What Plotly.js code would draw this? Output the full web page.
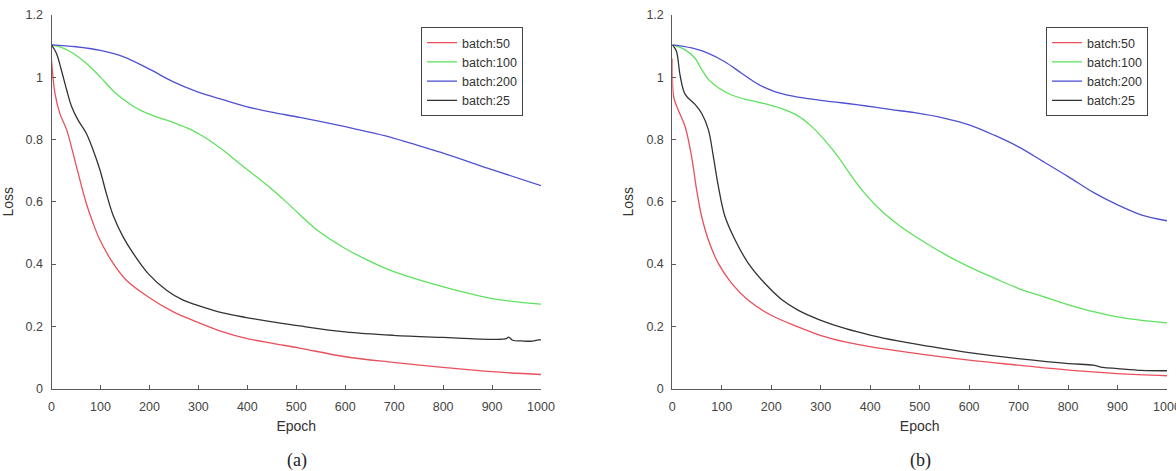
<!DOCTYPE html>
<html>
<head>
<meta charset="utf-8">
<script src="https://cdn.plot.ly/plotly-3.0.1.min.js"></script>
<style>
  html, body { margin: 0; padding: 0; background: #fff; }
  #chart { width: 1176px; height: 471px; }
</style>
</head>
<body>
<div id="chart"></div>
<script>
// Training loss vs. epoch for four batch sizes, two runs (a) and (b).
const seriesNames = ['batch:50', 'batch:100', 'batch:200', 'batch:25'];
const seriesColors = ['#e8505c', '#5ee25e', '#5050d2', '#333333'];
const xTicks = [0, 100, 200, 300, 400, 500, 600, 700, 800, 900, 1000];
const yTicks = [0, 0.2, 0.4, 0.6, 0.8, 1, 1.2];
const captions = ['(a)', '(b)'];

// ---- run (a) ----
const a50Epoch = [0, 7, 17, 31, 44, 58, 71, 85, 99, 126, 153, 197, 248, 297, 350, 398, 452, 507, 600, 698, 799, 900, 1000];
const a50Loss  = [1.056, 0.949, 0.884, 0.831, 0.756, 0.670, 0.595, 0.531, 0.477, 0.402, 0.348, 0.295, 0.247, 0.214, 0.182, 0.161, 0.145, 0.130, 0.102, 0.084, 0.068, 0.054, 0.045];

const a100Epoch = [0, 20, 44, 71, 99, 126, 153, 180, 214, 248, 282, 316, 350, 384, 418, 452, 486, 541, 600, 650, 698, 799, 900, 1000];
const a100Loss  = [1.104, 1.096, 1.077, 1.045, 1.002, 0.956, 0.922, 0.895, 0.873, 0.855, 0.834, 0.804, 0.766, 0.723, 0.681, 0.638, 0.590, 0.511, 0.450, 0.409, 0.376, 0.327, 0.289, 0.271];

const a200Epoch = [0, 50, 100, 146, 200, 248, 297, 350, 398, 452, 507, 600, 700, 800, 900, 1000];
const a200Loss  = [1.104, 1.098, 1.086, 1.066, 1.026, 0.986, 0.954, 0.928, 0.906, 0.887, 0.871, 0.841, 0.804, 0.756, 0.703, 0.652];

const a25Epoch = [0, 10, 20, 31, 41, 54, 71, 85, 99, 112, 126, 146, 167, 197, 235, 269, 297, 350, 398, 452, 507, 600, 698, 799, 900, 929, 934, 942, 960, 982, 995, 1000];
const a25Loss  = [1.104, 1.077, 1.024, 0.959, 0.906, 0.863, 0.820, 0.766, 0.702, 0.627, 0.556, 0.488, 0.434, 0.370, 0.316, 0.284, 0.268, 0.243, 0.228, 0.214, 0.201, 0.182, 0.171, 0.164, 0.158, 0.160, 0.165, 0.155, 0.153, 0.152, 0.156, 0.156];

// ---- run (b) ----
const b50Epoch = [0, 3, 12, 26, 39, 49, 59, 73, 93, 120, 153, 199, 254, 299, 349, 402, 456, 510, 600, 699, 801, 900, 1000];
const b50Loss  = [1.06, 0.935, 0.895, 0.841, 0.745, 0.640, 0.555, 0.477, 0.402, 0.338, 0.284, 0.236, 0.198, 0.171, 0.150, 0.134, 0.121, 0.109, 0.091, 0.075, 0.059, 0.048, 0.041];

const b100Epoch = [0, 26, 46, 59, 73, 93, 120, 153, 187, 221, 254, 281, 308, 335, 362, 389, 423, 456, 490, 551, 600, 652, 699, 750, 801, 851, 900, 949, 1000];
const b100Loss  = [1.104, 1.088, 1.061, 1.026, 0.993, 0.966, 0.943, 0.927, 0.915, 0.899, 0.876, 0.843, 0.798, 0.745, 0.683, 0.627, 0.570, 0.527, 0.490, 0.431, 0.391, 0.354, 0.322, 0.295, 0.269, 0.247, 0.230, 0.219, 0.211];

const b200Epoch = [0, 39, 73, 106, 140, 174, 207, 241, 275, 308, 342, 376, 409, 443, 490, 551, 600, 652, 699, 750, 801, 851, 900, 949, 1000];
const b200Loss  = [1.104, 1.094, 1.077, 1.050, 1.013, 0.977, 0.954, 0.940, 0.931, 0.924, 0.918, 0.911, 0.904, 0.896, 0.886, 0.868, 0.847, 0.813, 0.777, 0.729, 0.680, 0.630, 0.590, 0.557, 0.539];

const b25Epoch = [0, 8, 16, 26, 46, 59, 73, 83, 93, 106, 127, 153, 187, 221, 254, 299, 349, 402, 456, 510, 600, 699, 801, 851, 870, 900, 949, 1000];
const b25Loss  = [1.104, 1.085, 1.004, 0.945, 0.913, 0.885, 0.831, 0.745, 0.650, 0.555, 0.477, 0.404, 0.338, 0.286, 0.252, 0.220, 0.193, 0.171, 0.153, 0.138, 0.115, 0.096, 0.080, 0.075, 0.068, 0.064, 0.058, 0.057];

const panelA = [[a50Epoch, a50Loss], [a100Epoch, a100Loss], [a200Epoch, a200Loss], [a25Epoch, a25Loss]];
const panelB = [[b50Epoch, b50Loss], [b100Epoch, b100Loss], [b200Epoch, b200Loss], [b25Epoch, b25Loss]];

const W = 1176, H = 471;
const px = v => v / W;
const py = v => 1 - v / H;

function makeTraces(panel, xa, ya, legendId) {
  return panel.map((s, i) => ({
    type: 'scatter', mode: 'lines',
    x: s[0], y: s[1],
    xaxis: xa, yaxis: ya,
    name: seriesNames[i],
    legend: legendId,
    line: { color: seriesColors[i], width: 1.3, shape: 'spline', smoothing: 1.0 }
  }));
}

const traces = makeTraces(panelA, 'x', 'y', 'legend')
  .concat(makeTraces(panelB, 'x2', 'y2', 'legend2'));

const axisColor = '#5a5a5a';
const tickFont = { family: 'Liberation Sans, Arial, sans-serif', size: 12.5, color: '#444' };
const titleFont = { family: 'Liberation Sans, Arial, sans-serif', size: 14, color: '#333' };

function xAxis(domain, anchor) {
  return {
    domain: domain, anchor: anchor, range: [0, 1000],
    tickvals: xTicks, ticktext: xTicks.map(String),
    ticks: 'inside', ticklen: 4, tickcolor: axisColor, tickwidth: 1,
    showline: true, linecolor: axisColor, linewidth: 1, mirror: false,
    showgrid: false, zeroline: false, tickfont: tickFont,
    ticklabelstandoff: 6, ticklabeloverflow: 'allow',
    title: { text: 'Epoch', font: titleFont, standoff: 8 },
    automargin: false, fixedrange: true
  };
}
function yAxis(domain, anchor) {
  return {
    domain: domain, anchor: anchor, range: [0, 1.2],
    tickvals: yTicks, ticktext: yTicks.map(String),
    ticks: 'inside', ticklen: 4, tickcolor: axisColor, tickwidth: 1,
    showline: true, linecolor: axisColor, linewidth: 1, mirror: false,
    showgrid: false, zeroline: false, tickfont: tickFont,
    ticklabelstandoff: 5, ticklabeloverflow: 'allow',
    title: { text: 'Loss', font: titleFont, standoff: 9 },
    automargin: false, fixedrange: true
  };
}

const yDom = [py(388.5), py(15)];
const legendBase = {
  yanchor: 'top', xanchor: 'left', y: py(27),
  bgcolor: '#ffffff', bordercolor: '#444', borderwidth: 1,
  font: { family: 'Liberation Sans, Arial, sans-serif', size: 12.5, color: '#333' },
  tracegroupgap: 0, itemwidth: 30
};

const layout = {
  width: W, height: H,
  margin: { l: 0, r: 0, t: 0, b: 0 },
  paper_bgcolor: '#fff', plot_bgcolor: '#fff',
  showlegend: true,
  xaxis: xAxis([px(51.5), px(541)], 'y'),
  yaxis: yAxis(yDom, 'x'),
  xaxis2: xAxis([px(672.3), px(1167)], 'y2'),
  yaxis2: yAxis(yDom, 'x2'),
  legend: Object.assign({}, legendBase, { x: px(421) }),
  legend2: Object.assign({}, legendBase, { x: px(1046) }),
  annotations: [
    { text: captions[0], xref: 'paper', yref: 'paper', x: px(297), y: py(460), xanchor: 'center', yanchor: 'middle', showarrow: false,
      font: { family: 'Liberation Serif, DejaVu Serif, serif', size: 18, color: '#222' } },
    { text: captions[1], xref: 'paper', yref: 'paper', x: px(920), y: py(460), xanchor: 'center', yanchor: 'middle', showarrow: false,
      font: { family: 'Liberation Serif, DejaVu Serif, serif', size: 18, color: '#222' } }
  ]
};

Plotly.newPlot('chart', traces, layout, { staticPlot: true, displayModeBar: false });
</script>
</body>
</html>
